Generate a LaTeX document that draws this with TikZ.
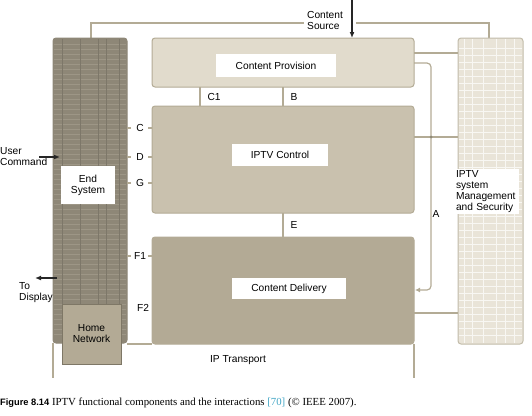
\documentclass[tikz,border=0pt]{standalone}
\usepackage{fontspec}
\setmainfont{Liberation Serif}
\setsansfont{Liberation Sans}
\usetikzlibrary{positioning,arrows.meta}
\definecolor{wire}{HTML}{B3AB95}
\definecolor{provfill}{HTML}{E1DBCC}
\definecolor{ctrlfill}{HTML}{C9C1AE}
\definecolor{delfill}{HTML}{B3AA95}
\definecolor{endfill}{HTML}{8E8777}
\definecolor{endgrid}{HTML}{9D9686}
\definecolor{mgmtfill}{HTML}{E9E4D8}
\definecolor{homeedge}{HTML}{7E7766}
\definecolor{citecol}{HTML}{3FA4C4}
\tikzset{
  block/.style={draw=wire, line width=1pt, rounded corners=3pt, inner sep=0pt},
  tag/.style={fill=white, inner sep=0pt, font=\sffamily\fontsize{10.2}{11}\selectfont},
  pin/.style={font=\sffamily\fontsize{10.2}{11}\selectfont, inner sep=1pt},
  wireline/.style={draw=wire, line width=1.2pt},
  dark/.style={draw=black!85, line width=1.2pt, -{Latex[length=6pt,width=5pt]}}
}
\begin{document}
\begin{tikzpicture}[x=1pt, y=-1pt]
        \useasboundingbox (0,0) rectangle (532,415);

        % frame round the whole system
        \draw[wireline] (91,38) -- (91,23) -- (304,23);
        \draw[wireline] (356,23) -- (489,23) -- (489,38);
        \draw[wireline] (53,343) -- (53,378);
        \draw[wireline] (414,344) -- (414,378);
        \draw[wireline] (127,344) -- (152,344);

        % end system column
        \node[block, draw=endfill, fill=endfill, minimum width=74, minimum height=305] (endsys) at (90,190.5) {};
        \foreach \y in {44,49,...,338} \draw[endgrid, line width=0.5pt] (54,\y) -- (126,\y);
        \foreach \x in {62,80,98,106,119} \draw[endfill!88!black, line width=0.3pt] (\x,39) -- (\x,342);
        \node[tag, minimum width=54, minimum height=38, align=center] (endlabel) at (88,185) {End\\System};
        \node[block, draw=homeedge, fill=delfill, minimum width=59, minimum height=60, rounded corners=0pt, align=center, font=\sffamily\fontsize{10.2}{11}\selectfont] (home) at (91.5,334) {Home\\Network};

        % management column
        \node[block, draw=wire!80, fill=mgmtfill, minimum width=65, minimum height=306] (mgmt) at (490.5,191) {};
        \foreach \y in {48,55,...,336} \draw[white!70!mgmtfill, line width=0.6pt] (459,\y) -- (522,\y);
        \foreach \x in {464,472,483,496,505,514} \draw[white!70!mgmtfill, line width=0.6pt] (\x,39) -- (\x,343);
        \node[tag, minimum width=64, minimum height=45, text width=62, align=left] (mgmtlabel) at (487,191.5) {IPTV\\system\\Management\\and Security};

        % functional blocks
        \node[block, fill=provfill, minimum width=262, minimum height=49] (prov) at (283,62.5) {};
        \node[tag, minimum width=120, minimum height=23] (provlabel) at (276,65.5) {Content Provision};
        \node[block, fill=ctrlfill, minimum width=262, minimum height=107] (ctrl) at (283,159.5) {};
        \node[tag, minimum width=96, minimum height=22] (ctrllabel) at (280,155) {IPTV Control};
        \node[block, fill=delfill, minimum width=262, minimum height=107] (deliv) at (283,290.5) {};
        \node[tag, minimum width=114, minimum height=21] (dellabel) at (289,288.5) {Content Delivery};

        % reference points between blocks
        \draw[wireline] (200,87) -- (200,106) node[pin, anchor=west, pos=.5, xshift=6pt] {C1};
        \draw[wireline] (283,87) -- (283,106) node[pin, anchor=west, pos=.5, xshift=6pt] {B};
        \draw[wireline] (283,213) -- (283,237) node[pin, anchor=west, pos=.5, xshift=6pt] {E};
        \foreach \y/\t in {128/C,157/D,183/G,256/F1} {
          \draw[wireline] (127,\y) -- (131,\y);
          \draw[wireline] (148,\y) -- (152,\y);
          \node[pin] at (140,\y) {\t};
        }
        \node[pin] at (143,308) {F2};

        % links to management
        \draw[wireline] (414,53) -- (458,53);
        \draw[wireline] (414,137) -- (458,137);
        \draw[wireline] (414,313) -- (458,313);
        \draw[wireline, rounded corners=4pt, -{Latex[length=5pt,width=5pt]}] (414,63) -| (431,290) -- (415,290);
        \fill[wire!80!black] (431,137) circle (1.5);
        \node[pin] at (436,214) {A};

        % outside inputs and outputs
        \node[pin, anchor=north west, align=left, inner sep=0pt] (source) at (307,11) {Content\\Source};
        \coordinate (srctop) at (352,0);
        \draw[dark] (srctop) -- (352,38);
        \node[pin, anchor=west, align=left, inner sep=0pt] (user) at (0,157) {User\\Command};
        \draw[dark] (39,157) -- (60,157);
        \draw[dark] (57,278) -- (35,278);
        \node[pin, anchor=north west, align=left, inner sep=0pt] (display) at (19,282) {To\\Display};
        \node[pin] (transport) at (238,360) {IP Transport};

        % caption
        \node[anchor=west, inner sep=0pt] (caption) at (0,403) {\sffamily\bfseries\fontsize{9.3}{10}\selectfont Figure 8.14\rmfamily\mdseries\fontsize{10.8}{11}\selectfont\ IPTV functional components and the interactions \textcolor{citecol}{[70]} (© IEEE 2007).};
    \end{tikzpicture}
\end{document}
